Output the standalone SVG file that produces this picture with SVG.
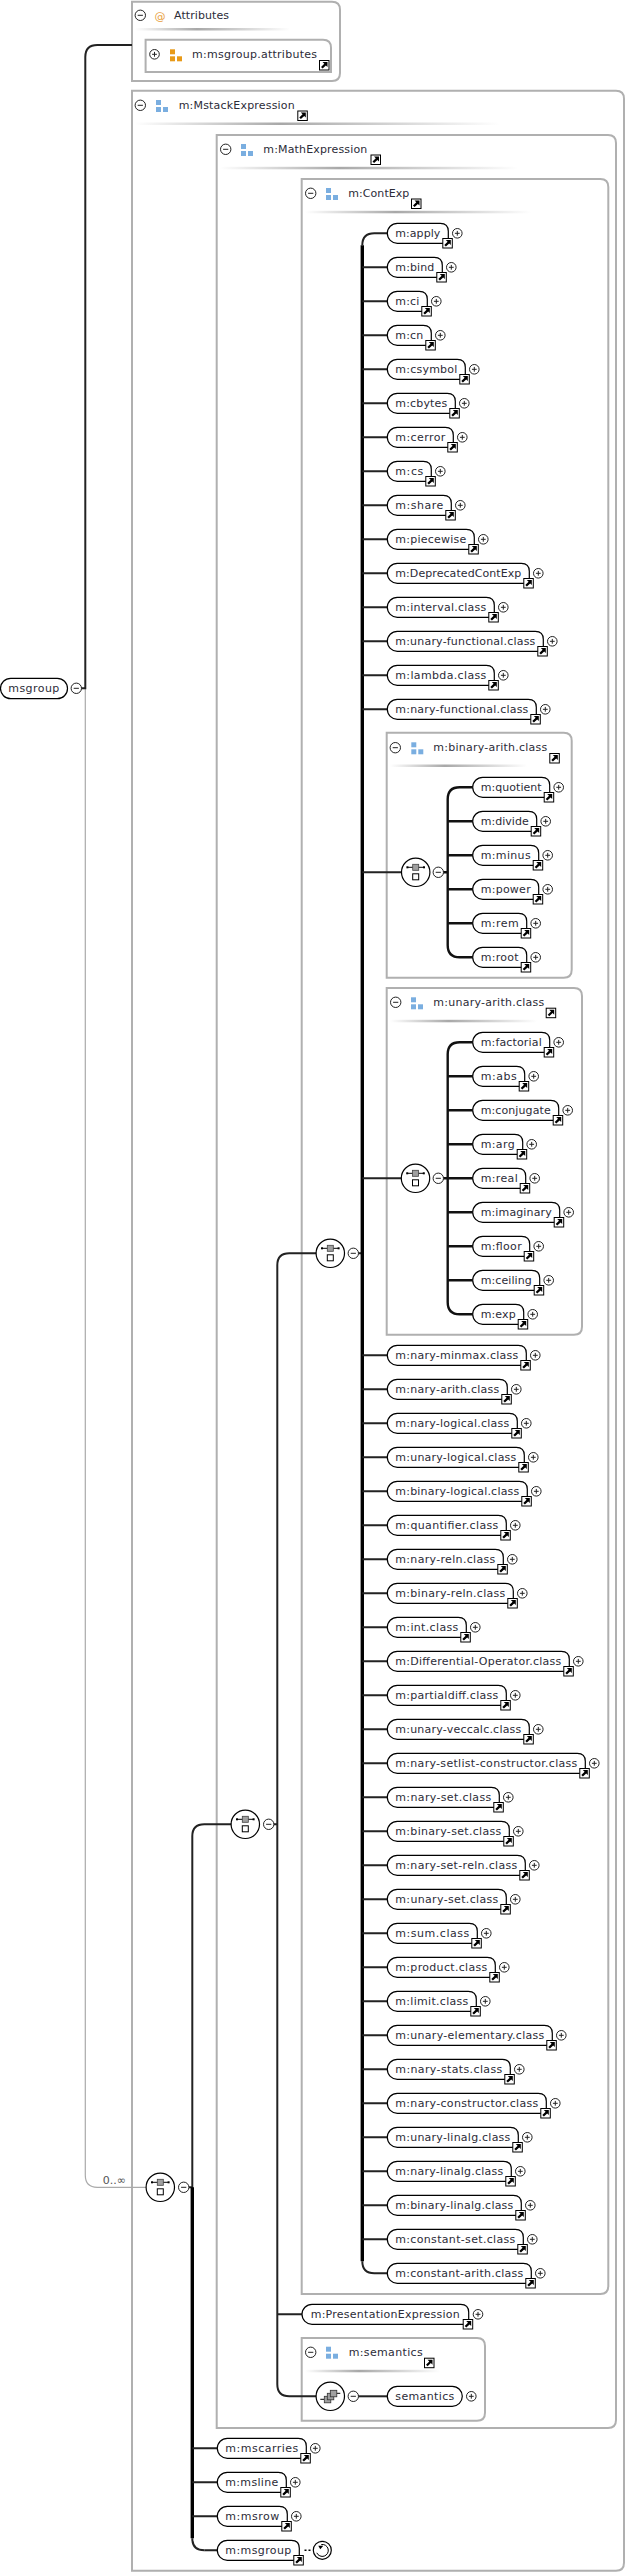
<svg xmlns="http://www.w3.org/2000/svg" width="642" height="2573" viewBox="0 0 642 2573">
<style>
text{font-family:"DejaVu Sans","Liberation Sans",sans-serif;font-size:11px;fill:#2c2c38}
.box{fill:none;stroke:#b0b0b0;stroke-width:2}
.pill{fill:#fff;stroke:#000;stroke-width:1.2}
.c{fill:none;stroke:#222;stroke-width:2}
.t{fill:none;stroke:#000;stroke-width:3.4}
.b{fill:none;stroke:#111;stroke-width:2.4}
.sep{fill:url(#sep)}
</style>
<defs>
<linearGradient id="sep"><stop offset="0" stop-color="#fff"/><stop offset=".4" stop-color="#a8a8a8"/><stop offset="1" stop-color="#fff"/></linearGradient>
<g id="lnk"><rect x=".5" y=".5" width="9.5" height="9.5" fill="#fff" stroke="#000" stroke-width="1"/><path d="M3.5 2H8.5V7L6.9 5.4 3.6 8.6 2 7 5.3 3.7z" fill="#000"/></g>
<g id="plus"><circle r="4.8" fill="#fff" stroke="#222" stroke-width="1"/><path d="M-2.4 0H2.4M0-2.4V2.4" stroke="#222" stroke-width="1" fill="none"/></g>
<g id="minus"><circle r="5.2" fill="#fff" stroke="#222" stroke-width="1"/><path d="M-2.6 0H2.6" stroke="#222" stroke-width="1" fill="none"/></g>
<g id="blue" fill="#7aaee0"><rect width="5" height="5"/><rect y="7" width="5" height="5"/><rect x="7" y="7" width="5" height="5"/></g>
<g id="orange" fill="#e89a18"><rect width="5" height="5"/><rect y="7" width="5" height="5"/><rect x="7" y="7" width="5" height="5"/></g>
<g id="seq"><circle r="14.2" fill="#fff" stroke="#000" stroke-width="1.2"/><path d="M-8-5H8" stroke="#000" stroke-width="1"/><rect x="-9.3" y="-6" width="2" height="2"/><rect x="7.3" y="-6" width="2" height="2"/><rect x="-3" y="-8" width="6" height="6" fill="#a0a0a0" stroke="#444" stroke-width=".8"/><rect x="-3" y="1.5" width="6" height="6" fill="#fff" stroke="#000" stroke-width="1"/></g>
<g id="all"><circle r="14.2" fill="#fff" stroke="#000" stroke-width="1.2"/><path d="M-10 3H-6M6-3H10" stroke="#000" stroke-width="1"/><rect x="-6" y="0" width="6.5" height="6.5" fill="#a0a0a0" stroke="#333" stroke-width=".8"/><rect x="-3" y="-3" width="6.5" height="6.5" fill="#a0a0a0" stroke="#333" stroke-width=".8"/><rect x="0" y="-6" width="6.5" height="6.5" fill="#a0a0a0" stroke="#333" stroke-width=".8"/></g>
</defs>

<g id="box-attributes"><path class="box" d="M132 1.7H332Q340 1.7 340 9.7V73Q340 81 332 81H132Z"/><use href="#minus" x="140.3" y="15.3"/><text x="154.6" y="19.5" style="fill:#e8a040">@</text><text x="174" y="19.3" textLength="55">Attributes</text><rect class="sep" x="135" y="28" width="155" height="2.5"/></g>
<g id="box-msgroup-attributes"><path class="box" d="M145.6 39.7H323Q331 39.7 331 47.7V72H145.6Z"/><use href="#plus" x="154.5" y="54.3"/><use href="#orange" x="170" y="49.3"/><text x="192" y="58" textLength="125">m:msgroup.attributes</text><use href="#lnk" x="319" y="60"/></g>
<g id="box-mstack"><path class="box" d="M132 90.7H616Q624 90.7 624 98.7V2562.7Q624 2570.7 616 2570.7H132Z"/><use href="#minus" x="140.3" y="105.3"/><use href="#blue" x="156" y="100"/><text x="178.7" y="109" textLength="116">m:MstackExpression</text><use href="#lnk" x="297.3" y="110.5"/><rect class="sep" x="135" y="122.5" width="365" height="2.5"/></g>
<g id="box-math"><path class="box" d="M216.7 135H608Q616 135 616 143V2420Q616 2428 608 2428H216.7Z"/><use href="#minus" x="225.7" y="149.3"/><use href="#blue" x="241" y="144"/><text x="263.3" y="153" textLength="104">m:MathExpression</text><use href="#lnk" x="370.5" y="154.5"/><rect class="sep" x="220" y="166.8" width="298" height="2.5"/></g>
<g id="box-contexp"><path class="box" d="M301.7 179H600.3Q608.3 179 608.3 187V2286Q608.3 2294 600.3 2294H301.7Z"/><use href="#minus" x="310.7" y="193.3"/><use href="#blue" x="326" y="188"/><text x="348.3" y="197" textLength="61">m:ContExp</text><use href="#lnk" x="411" y="198.5"/><rect class="sep" x="305" y="210.8" width="226" height="2.5"/></g>
<g id="box-binary-arith"><path class="box" d="M386.7 732.7H563.7Q571.7 732.7 571.7 740.7V969.7Q571.7 977.7 563.7 977.7H386.7Z"/><use href="#minus" x="395.3" y="747.7"/><use href="#blue" x="411.3" y="742.3"/><text x="433.3" y="751" textLength="114">m:binary-arith.class</text><use href="#lnk" x="549.3" y="753"/><rect class="sep" x="390" y="764.5" width="137" height="2.5"/></g>
<g id="box-unary-arith"><path class="box" d="M386.7 988H574Q582 988 582 996V1326.7Q582 1334.7 574 1334.7H386.7Z"/><use href="#minus" x="395.7" y="1002.3"/><use href="#blue" x="411" y="997.3"/><text x="433.3" y="1006" textLength="111">m:unary-arith.class</text><use href="#lnk" x="545.7" y="1007.7"/><rect class="sep" x="390" y="1019.8" width="147" height="2.5"/></g>
<g id="box-semantics"><path class="box" d="M301.7 2338H477Q485 2338 485 2346V2412.7Q485 2420.7 477 2420.7H301.7Z"/><use href="#minus" x="310.7" y="2352.3"/><use href="#blue" x="326" y="2346.7"/><text x="348.7" y="2356" textLength="74">m:semantics</text><use href="#lnk" x="424" y="2357.7"/><rect class="sep" x="305" y="2369.8" width="135" height="2.5"/></g>

<g id="connectors">
<path d="M85.3 688.3V2175.3Q85.3 2187.3 97.3 2187.3H146" fill="none" stroke="#aaa" stroke-width="1.2"/>
<path class="c" d="M81 688.3H85.3V57Q85.3 45 97.3 45H132"/>
<path class="c" d="M189 2187.3H192.3V1836.3Q192.3 1824.3 204.3 1824.3H232"/>
<path class="c" d="M204.3 2550.3Q192.3 2550.3 192.3 2538.3"/>
<path class="t" d="M192.3 2187.3V2538.3"/>
<path class="c" d="M192.3 2448.3H217.3M192.3 2482.3H217.3M192.3 2516.3H217.3M204.3 2550.3H217.3"/>
<path class="c" d="M273 1824.3H277.3M316 1253.3H289.3Q277.3 1253.3 277.3 1265.3V2384.3Q277.3 2396.3 289.3 2396.3H316M277.3 2314.3H302"/>
<path class="c" d="M358 1253.3H362.3M374.3 233.3Q362.3 233.3 362.3 245.3M362.3 2261.3Q362.3 2273.3 374.3 2273.3M374.3 233.3H387.3M374.3 2273.3H387.3"/>
<path class="t" d="M362.3 245.3V2261.3"/>
<path class="c" d="M362.3 267.3H387.3M362.3 301.3H387.3M362.3 335.3H387.3M362.3 369.3H387.3M362.3 403.3H387.3M362.3 437.3H387.3M362.3 471.3H387.3M362.3 505.3H387.3M362.3 539.3H387.3M362.3 573.3H387.3M362.3 607.3H387.3M362.3 641.3H387.3M362.3 675.3H387.3M362.3 709.3H387.3M362.3 872.3H402M362.3 1178.3H402M362.3 1355.3H387.3M362.3 1389.3H387.3M362.3 1423.3H387.3M362.3 1457.3H387.3M362.3 1491.3H387.3M362.3 1525.3H387.3M362.3 1559.3H387.3M362.3 1593.3H387.3M362.3 1627.3H387.3M362.3 1661.3H387.3M362.3 1695.3H387.3M362.3 1729.3H387.3M362.3 1763.3H387.3M362.3 1797.3H387.3M362.3 1831.3H387.3M362.3 1865.3H387.3M362.3 1899.3H387.3M362.3 1933.3H387.3M362.3 1967.3H387.3M362.3 2001.3H387.3M362.3 2035.3H387.3M362.3 2069.3H387.3M362.3 2103.3H387.3M362.3 2137.3H387.3M362.3 2171.3H387.3M362.3 2205.3H387.3M362.3 2239.3H387.3"/>
<path class="b" d="M443 872.3H447.7M472.7 787.3H459.7Q447.7 787.3 447.7 799.3V945.3Q447.7 957.3 459.7 957.3H472.7M447.7 821.3H472.7M447.7 855.3H472.7M447.7 889.3H472.7M447.7 923.3H472.7"/>
<path class="b" d="M443 1178.3H447.7M472.7 1042.3H459.7Q447.7 1042.3 447.7 1054.3V1302.3Q447.7 1314.3 459.7 1314.3H472.7M447.7 1076.3H472.7M447.7 1110.3H472.7M447.7 1144.3H472.7M447.7 1178.3H472.7M447.7 1212.3H472.7M447.7 1246.3H472.7M447.7 1280.3H472.7"/>
<path class="c" d="M358 2396.3H387.3"/>
<path d="M304.5 2550.3H312" fill="none" stroke="#000" stroke-width="1.6" stroke-dasharray="2 2"/>
</g>

<g id="n-msgroup-root"><path class="pill" d="M10.7 678.3H57.3a10.2 10.2 0 0 1 0 20.4H10.7a10.2 10.2 0 0 1 0-20.4z"/><text x="8.3" y="692" textLength="51">msgroup</text><use href="#minus" x="76.3" y="688.3"/></g>
<g id="s-msgroup"><use href="#seq" x="160.3" y="2187.3"/><use href="#minus" x="183.7" y="2187.3"/><text x="102.7" y="2183.7" style="fill:#555">0..∞</text></g>
<g id="s-mstack"><use href="#seq" x="245.3" y="1824.3"/><use href="#minus" x="268.7" y="1824.3"/></g>
<g id="s-math"><use href="#seq" x="330.3" y="1253.3"/><use href="#minus" x="353.3" y="1253.3"/></g>
<g id="s-binary"><use href="#seq" x="415.7" y="872.3"/><use href="#minus" x="438.3" y="872.3"/></g>
<g id="s-unary"><use href="#seq" x="415.5" y="1178.3"/><use href="#minus" x="438.3" y="1178.3"/></g>
<g id="s-semantics"><use href="#all" x="330.3" y="2396.3"/><use href="#minus" x="353.3" y="2396.3"/></g>

<g id="n-apply" transform="translate(387.3 233.3)"><path class="pill" d="M10-10H53q8 0 8 8v12H10a10 10 0 0 1 0-20z"/><text x="8" y="4" textLength="45">m:apply</text><use href="#lnk" x="55" y="4.7"/><use href="#plus" x="70"/></g>
<g id="n-bind" transform="translate(387.3 267.3)"><path class="pill" d="M10-10H47q8 0 8 8v12H10a10 10 0 0 1 0-20z"/><text x="8" y="4" textLength="39">m:bind</text><use href="#lnk" x="49" y="4.7"/><use href="#plus" x="64"/></g>
<g id="n-ci" transform="translate(387.3 301.3)"><path class="pill" d="M10-10H32q8 0 8 8v12H10a10 10 0 0 1 0-20z"/><text x="8" y="4" textLength="24">m:ci</text><use href="#lnk" x="34" y="4.7"/><use href="#plus" x="49"/></g>
<g id="n-cn" transform="translate(387.3 335.3)"><path class="pill" d="M10-10H36q8 0 8 8v12H10a10 10 0 0 1 0-20z"/><text x="8" y="4" textLength="28">m:cn</text><use href="#lnk" x="38" y="4.7"/><use href="#plus" x="53"/></g>
<g id="n-csymbol" transform="translate(387.3 369.3)"><path class="pill" d="M10-10H70q8 0 8 8v12H10a10 10 0 0 1 0-20z"/><text x="8" y="4" textLength="62">m:csymbol</text><use href="#lnk" x="72" y="4.7"/><use href="#plus" x="87"/></g>
<g id="n-cbytes" transform="translate(387.3 403.3)"><path class="pill" d="M10-10H60q8 0 8 8v12H10a10 10 0 0 1 0-20z"/><text x="8" y="4" textLength="52">m:cbytes</text><use href="#lnk" x="62" y="4.7"/><use href="#plus" x="77"/></g>
<g id="n-cerror" transform="translate(387.3 437.3)"><path class="pill" d="M10-10H58q8 0 8 8v12H10a10 10 0 0 1 0-20z"/><text x="8" y="4" textLength="50">m:cerror</text><use href="#lnk" x="60" y="4.7"/><use href="#plus" x="75"/></g>
<g id="n-cs" transform="translate(387.3 471.3)"><path class="pill" d="M10-10H36q8 0 8 8v12H10a10 10 0 0 1 0-20z"/><text x="8" y="4" textLength="28">m:cs</text><use href="#lnk" x="38" y="4.7"/><use href="#plus" x="53"/></g>
<g id="n-share" transform="translate(387.3 505.3)"><path class="pill" d="M10-10H56q8 0 8 8v12H10a10 10 0 0 1 0-20z"/><text x="8" y="4" textLength="48">m:share</text><use href="#lnk" x="58" y="4.7"/><use href="#plus" x="73"/></g>
<g id="n-piecewise" transform="translate(387.3 539.3)"><path class="pill" d="M10-10H79q8 0 8 8v12H10a10 10 0 0 1 0-20z"/><text x="8" y="4" textLength="71">m:piecewise</text><use href="#lnk" x="81" y="4.7"/><use href="#plus" x="96"/></g>
<g id="n-deprecated" transform="translate(387.3 573.3)"><path class="pill" d="M10-10H134q8 0 8 8v12H10a10 10 0 0 1 0-20z"/><text x="8" y="4" textLength="126">m:DeprecatedContExp</text><use href="#lnk" x="136" y="4.7"/><use href="#plus" x="151"/></g>
<g id="n-interval" transform="translate(387.3 607.3)"><path class="pill" d="M10-10H99q8 0 8 8v12H10a10 10 0 0 1 0-20z"/><text x="8" y="4" textLength="91">m:interval.class</text><use href="#lnk" x="101" y="4.7"/><use href="#plus" x="116"/></g>
<g id="n-unary-functional" transform="translate(387.3 641.3)"><path class="pill" d="M10-10H148q8 0 8 8v12H10a10 10 0 0 1 0-20z"/><text x="8" y="4" textLength="140">m:unary-functional.class</text><use href="#lnk" x="150" y="4.7"/><use href="#plus" x="165"/></g>
<g id="n-lambda" transform="translate(387.3 675.3)"><path class="pill" d="M10-10H99q8 0 8 8v12H10a10 10 0 0 1 0-20z"/><text x="8" y="4" textLength="91">m:lambda.class</text><use href="#lnk" x="101" y="4.7"/><use href="#plus" x="116"/></g>
<g id="n-nary-functional" transform="translate(387.3 709.3)"><path class="pill" d="M10-10H141q8 0 8 8v12H10a10 10 0 0 1 0-20z"/><text x="8" y="4" textLength="133">m:nary-functional.class</text><use href="#lnk" x="143" y="4.7"/><use href="#plus" x="158"/></g>

<g id="n-quotient" transform="translate(472.7 787.3)"><path class="pill" d="M10-10H69q8 0 8 8v12H10a10 10 0 0 1 0-20z"/><text x="8" y="4" textLength="61">m:quotient</text><use href="#lnk" x="71" y="4.7"/><use href="#plus" x="86"/></g>
<g id="n-divide" transform="translate(472.7 821.3)"><path class="pill" d="M10-10H56q8 0 8 8v12H10a10 10 0 0 1 0-20z"/><text x="8" y="4" textLength="48">m:divide</text><use href="#lnk" x="58" y="4.7"/><use href="#plus" x="73"/></g>
<g id="n-minus" transform="translate(472.7 855.3)"><path class="pill" d="M10-10H58q8 0 8 8v12H10a10 10 0 0 1 0-20z"/><text x="8" y="4" textLength="50">m:minus</text><use href="#lnk" x="60" y="4.7"/><use href="#plus" x="75"/></g>
<g id="n-power" transform="translate(472.7 889.3)"><path class="pill" d="M10-10H58q8 0 8 8v12H10a10 10 0 0 1 0-20z"/><text x="8" y="4" textLength="50">m:power</text><use href="#lnk" x="60" y="4.7"/><use href="#plus" x="75"/></g>
<g id="n-rem" transform="translate(472.7 923.3)"><path class="pill" d="M10-10H46q8 0 8 8v12H10a10 10 0 0 1 0-20z"/><text x="8" y="4" textLength="38">m:rem</text><use href="#lnk" x="48" y="4.7"/><use href="#plus" x="63"/></g>
<g id="n-root" transform="translate(472.7 957.3)"><path class="pill" d="M10-10H46q8 0 8 8v12H10a10 10 0 0 1 0-20z"/><text x="8" y="4" textLength="38">m:root</text><use href="#lnk" x="48" y="4.7"/><use href="#plus" x="63"/></g>

<g id="n-factorial" transform="translate(472.7 1042.3)"><path class="pill" d="M10-10H69q8 0 8 8v12H10a10 10 0 0 1 0-20z"/><text x="8" y="4" textLength="61">m:factorial</text><use href="#lnk" x="71" y="4.7"/><use href="#plus" x="86"/></g>
<g id="n-abs" transform="translate(472.7 1076.3)"><path class="pill" d="M10-10H44q8 0 8 8v12H10a10 10 0 0 1 0-20z"/><text x="8" y="4" textLength="36">m:abs</text><use href="#lnk" x="46" y="4.7"/><use href="#plus" x="61"/></g>
<g id="n-conjugate" transform="translate(472.7 1110.3)"><path class="pill" d="M10-10H78q8 0 8 8v12H10a10 10 0 0 1 0-20z"/><text x="8" y="4" textLength="70">m:conjugate</text><use href="#lnk" x="80" y="4.7"/><use href="#plus" x="95"/></g>
<g id="n-arg" transform="translate(472.7 1144.3)"><path class="pill" d="M10-10H42q8 0 8 8v12H10a10 10 0 0 1 0-20z"/><text x="8" y="4" textLength="34">m:arg</text><use href="#lnk" x="44" y="4.7"/><use href="#plus" x="59"/></g>
<g id="n-real" transform="translate(472.7 1178.3)"><path class="pill" d="M10-10H45q8 0 8 8v12H10a10 10 0 0 1 0-20z"/><text x="8" y="4" textLength="37">m:real</text><use href="#lnk" x="47" y="4.7"/><use href="#plus" x="62"/></g>
<g id="n-imaginary" transform="translate(472.7 1212.3)"><path class="pill" d="M10-10H79q8 0 8 8v12H10a10 10 0 0 1 0-20z"/><text x="8" y="4" textLength="71">m:imaginary</text><use href="#lnk" x="81" y="4.7"/><use href="#plus" x="96"/></g>
<g id="n-floor" transform="translate(472.7 1246.3)"><path class="pill" d="M10-10H49q8 0 8 8v12H10a10 10 0 0 1 0-20z"/><text x="8" y="4" textLength="41">m:floor</text><use href="#lnk" x="51" y="4.7"/><use href="#plus" x="66"/></g>
<g id="n-ceiling" transform="translate(472.7 1280.3)"><path class="pill" d="M10-10H59q8 0 8 8v12H10a10 10 0 0 1 0-20z"/><text x="8" y="4" textLength="51">m:ceiling</text><use href="#lnk" x="61" y="4.7"/><use href="#plus" x="76"/></g>
<g id="n-exp" transform="translate(472.7 1314.3)"><path class="pill" d="M10-10H43q8 0 8 8v12H10a10 10 0 0 1 0-20z"/><text x="8" y="4" textLength="35">m:exp</text><use href="#lnk" x="45" y="4.7"/><use href="#plus" x="60"/></g>

<g id="n-nary-minmax" transform="translate(387.3 1355.3)"><path class="pill" d="M10-10H131q8 0 8 8v12H10a10 10 0 0 1 0-20z"/><text x="8" y="4" textLength="123">m:nary-minmax.class</text><use href="#lnk" x="133" y="4.7"/><use href="#plus" x="148"/></g>
<g id="n-nary-arith" transform="translate(387.3 1389.3)"><path class="pill" d="M10-10H112q8 0 8 8v12H10a10 10 0 0 1 0-20z"/><text x="8" y="4" textLength="104">m:nary-arith.class</text><use href="#lnk" x="114" y="4.7"/><use href="#plus" x="129"/></g>
<g id="n-nary-logical" transform="translate(387.3 1423.3)"><path class="pill" d="M10-10H122q8 0 8 8v12H10a10 10 0 0 1 0-20z"/><text x="8" y="4" textLength="114">m:nary-logical.class</text><use href="#lnk" x="124" y="4.7"/><use href="#plus" x="139"/></g>
<g id="n-unary-logical" transform="translate(387.3 1457.3)"><path class="pill" d="M10-10H129q8 0 8 8v12H10a10 10 0 0 1 0-20z"/><text x="8" y="4" textLength="121">m:unary-logical.class</text><use href="#lnk" x="131" y="4.7"/><use href="#plus" x="146"/></g>
<g id="n-binary-logical" transform="translate(387.3 1491.3)"><path class="pill" d="M10-10H132q8 0 8 8v12H10a10 10 0 0 1 0-20z"/><text x="8" y="4" textLength="124">m:binary-logical.class</text><use href="#lnk" x="134" y="4.7"/><use href="#plus" x="149"/></g>
<g id="n-quantifier" transform="translate(387.3 1525.3)"><path class="pill" d="M10-10H111q8 0 8 8v12H10a10 10 0 0 1 0-20z"/><text x="8" y="4" textLength="103">m:quantifier.class</text><use href="#lnk" x="113" y="4.7"/><use href="#plus" x="128"/></g>
<g id="n-nary-reln" transform="translate(387.3 1559.3)"><path class="pill" d="M10-10H108q8 0 8 8v12H10a10 10 0 0 1 0-20z"/><text x="8" y="4" textLength="100">m:nary-reln.class</text><use href="#lnk" x="110" y="4.7"/><use href="#plus" x="125"/></g>
<g id="n-binary-reln" transform="translate(387.3 1593.3)"><path class="pill" d="M10-10H118q8 0 8 8v12H10a10 10 0 0 1 0-20z"/><text x="8" y="4" textLength="110">m:binary-reln.class</text><use href="#lnk" x="120" y="4.7"/><use href="#plus" x="135"/></g>
<g id="n-int" transform="translate(387.3 1627.3)"><path class="pill" d="M10-10H71q8 0 8 8v12H10a10 10 0 0 1 0-20z"/><text x="8" y="4" textLength="63">m:int.class</text><use href="#lnk" x="73" y="4.7"/><use href="#plus" x="88"/></g>
<g id="n-differential" transform="translate(387.3 1661.3)"><path class="pill" d="M10-10H174q8 0 8 8v12H10a10 10 0 0 1 0-20z"/><text x="8" y="4" textLength="166">m:Differential-Operator.class</text><use href="#lnk" x="176" y="4.7"/><use href="#plus" x="191"/></g>
<g id="n-partialdiff" transform="translate(387.3 1695.3)"><path class="pill" d="M10-10H111q8 0 8 8v12H10a10 10 0 0 1 0-20z"/><text x="8" y="4" textLength="103">m:partialdiff.class</text><use href="#lnk" x="113" y="4.7"/><use href="#plus" x="128"/></g>
<g id="n-unary-veccalc" transform="translate(387.3 1729.3)"><path class="pill" d="M10-10H134q8 0 8 8v12H10a10 10 0 0 1 0-20z"/><text x="8" y="4" textLength="126">m:unary-veccalc.class</text><use href="#lnk" x="136" y="4.7"/><use href="#plus" x="151"/></g>
<g id="n-nary-setlist" transform="translate(387.3 1763.3)"><path class="pill" d="M10-10H190q8 0 8 8v12H10a10 10 0 0 1 0-20z"/><text x="8" y="4" textLength="182">m:nary-setlist-constructor.class</text><use href="#lnk" x="192" y="4.7"/><use href="#plus" x="207"/></g>
<g id="n-nary-set" transform="translate(387.3 1797.3)"><path class="pill" d="M10-10H104q8 0 8 8v12H10a10 10 0 0 1 0-20z"/><text x="8" y="4" textLength="96">m:nary-set.class</text><use href="#lnk" x="106" y="4.7"/><use href="#plus" x="121"/></g>
<g id="n-binary-set" transform="translate(387.3 1831.3)"><path class="pill" d="M10-10H114q8 0 8 8v12H10a10 10 0 0 1 0-20z"/><text x="8" y="4" textLength="106">m:binary-set.class</text><use href="#lnk" x="116" y="4.7"/><use href="#plus" x="131"/></g>
<g id="n-nary-set-reln" transform="translate(387.3 1865.3)"><path class="pill" d="M10-10H130q8 0 8 8v12H10a10 10 0 0 1 0-20z"/><text x="8" y="4" textLength="122">m:nary-set-reln.class</text><use href="#lnk" x="132" y="4.7"/><use href="#plus" x="147"/></g>
<g id="n-unary-set" transform="translate(387.3 1899.3)"><path class="pill" d="M10-10H111q8 0 8 8v12H10a10 10 0 0 1 0-20z"/><text x="8" y="4" textLength="103">m:unary-set.class</text><use href="#lnk" x="113" y="4.7"/><use href="#plus" x="128"/></g>
<g id="n-sum" transform="translate(387.3 1933.3)"><path class="pill" d="M10-10H82q8 0 8 8v12H10a10 10 0 0 1 0-20z"/><text x="8" y="4" textLength="74">m:sum.class</text><use href="#lnk" x="84" y="4.7"/><use href="#plus" x="99"/></g>
<g id="n-product" transform="translate(387.3 1967.3)"><path class="pill" d="M10-10H100q8 0 8 8v12H10a10 10 0 0 1 0-20z"/><text x="8" y="4" textLength="92">m:product.class</text><use href="#lnk" x="102" y="4.7"/><use href="#plus" x="117"/></g>
<g id="n-limit" transform="translate(387.3 2001.3)"><path class="pill" d="M10-10H81q8 0 8 8v12H10a10 10 0 0 1 0-20z"/><text x="8" y="4" textLength="73">m:limit.class</text><use href="#lnk" x="83" y="4.7"/><use href="#plus" x="98"/></g>
<g id="n-unary-elementary" transform="translate(387.3 2035.3)"><path class="pill" d="M10-10H157q8 0 8 8v12H10a10 10 0 0 1 0-20z"/><text x="8" y="4" textLength="149">m:unary-elementary.class</text><use href="#lnk" x="159" y="4.7"/><use href="#plus" x="174"/></g>
<g id="n-nary-stats" transform="translate(387.3 2069.3)"><path class="pill" d="M10-10H115q8 0 8 8v12H10a10 10 0 0 1 0-20z"/><text x="8" y="4" textLength="107">m:nary-stats.class</text><use href="#lnk" x="117" y="4.7"/><use href="#plus" x="132"/></g>
<g id="n-nary-constructor" transform="translate(387.3 2103.3)"><path class="pill" d="M10-10H151q8 0 8 8v12H10a10 10 0 0 1 0-20z"/><text x="8" y="4" textLength="143">m:nary-constructor.class</text><use href="#lnk" x="153" y="4.7"/><use href="#plus" x="168"/></g>
<g id="n-unary-linalg" transform="translate(387.3 2137.3)"><path class="pill" d="M10-10H123q8 0 8 8v12H10a10 10 0 0 1 0-20z"/><text x="8" y="4" textLength="115">m:unary-linalg.class</text><use href="#lnk" x="125" y="4.7"/><use href="#plus" x="140"/></g>
<g id="n-nary-linalg" transform="translate(387.3 2171.3)"><path class="pill" d="M10-10H116q8 0 8 8v12H10a10 10 0 0 1 0-20z"/><text x="8" y="4" textLength="108">m:nary-linalg.class</text><use href="#lnk" x="118" y="4.7"/><use href="#plus" x="133"/></g>
<g id="n-binary-linalg" transform="translate(387.3 2205.3)"><path class="pill" d="M10-10H126q8 0 8 8v12H10a10 10 0 0 1 0-20z"/><text x="8" y="4" textLength="118">m:binary-linalg.class</text><use href="#lnk" x="128" y="4.7"/><use href="#plus" x="143"/></g>
<g id="n-constant-set" transform="translate(387.3 2239.3)"><path class="pill" d="M10-10H128q8 0 8 8v12H10a10 10 0 0 1 0-20z"/><text x="8" y="4" textLength="120">m:constant-set.class</text><use href="#lnk" x="130" y="4.7"/><use href="#plus" x="145"/></g>
<g id="n-constant-arith" transform="translate(387.3 2273.3)"><path class="pill" d="M10-10H136q8 0 8 8v12H10a10 10 0 0 1 0-20z"/><text x="8" y="4" textLength="128">m:constant-arith.class</text><use href="#lnk" x="138" y="4.7"/><use href="#plus" x="153"/></g>

<g id="n-presentation" transform="translate(302 2314.3)"><path class="pill" d="M10-10H158.7q8 0 8 8v12H10a10 10 0 0 1 0-20z"/><text x="8.7" y="4" textLength="149">m:PresentationExpression</text><use href="#lnk" x="160.7" y="4.7"/><use href="#plus" x="176"/></g>
<g id="n-semantics" transform="translate(387.3 2396.3)"><path class="pill" d="M10-10H65a10 10 0 0 1 0 20H10a10 10 0 0 1 0-20z"/><text x="8" y="4" textLength="59">semantics</text><use href="#plus" x="84"/></g>

<g id="n-mscarries" transform="translate(217.3 2448.3)"><path class="pill" d="M10-10H81q8 0 8 8v12H10a10 10 0 0 1 0-20z"/><text x="8" y="4" textLength="73">m:mscarries</text><use href="#lnk" x="83" y="4.7"/><use href="#plus" x="98"/></g>
<g id="n-msline" transform="translate(217.3 2482.3)"><path class="pill" d="M10-10H61q8 0 8 8v12H10a10 10 0 0 1 0-20z"/><text x="8" y="4" textLength="53">m:msline</text><use href="#lnk" x="63" y="4.7"/><use href="#plus" x="78"/></g>
<g id="n-msrow" transform="translate(217.3 2516.3)"><path class="pill" d="M10-10H62q8 0 8 8v12H10a10 10 0 0 1 0-20z"/><text x="8" y="4" textLength="54">m:msrow</text><use href="#lnk" x="64" y="4.7"/><use href="#plus" x="79"/></g>
<g id="n-msgroup" transform="translate(217.3 2550.3)"><path class="pill" d="M10-10H74q8 0 8 8v12H10a10 10 0 0 1 0-20z"/><text x="8" y="4" textLength="66">m:msgroup</text><use href="#lnk" x="76" y="4.7"/></g>
<g id="n-recursion" transform="translate(322.3 2550.3)"><circle r="9" fill="#fff" stroke="#000" stroke-width="1.2"/><path d="M-1-5.8A6 6 0 1 1-5.5 2.5" fill="none" stroke="#000" stroke-width="1"/><path d="M-4-4.5H1L-2-1z" fill="#000"/></g>
</svg>
